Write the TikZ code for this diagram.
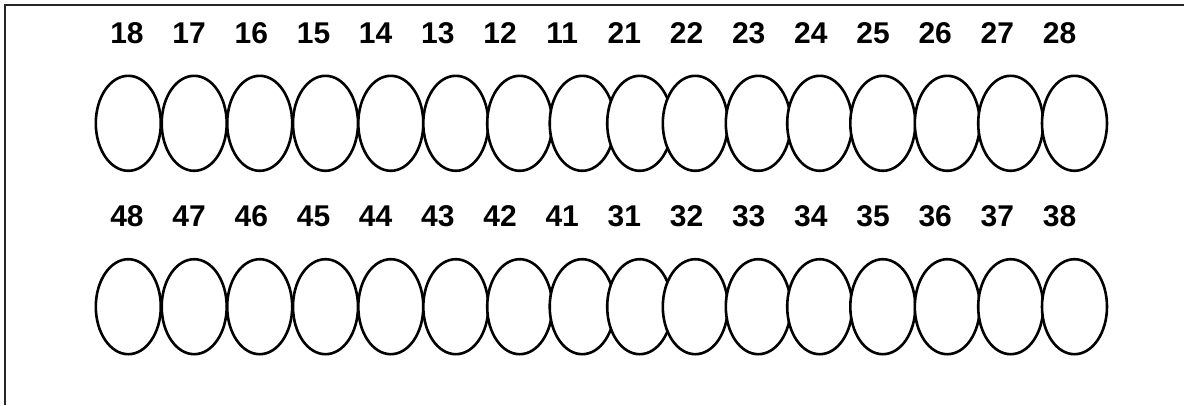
\documentclass[tikz,border=0pt]{standalone}
\usepackage{fontspec}
\setmainfont{Liberation Sans}
\usetikzlibrary{shapes.geometric}
\begin{document}
\begin{tikzpicture}[x=1pt,y=-1pt,
  tooth/.style={ellipse,draw,fill=white,line width=2.6pt,minimum width=65pt,minimum height=95pt,inner sep=0pt},
  num/.style={anchor=base,font=\fontsize{30}{30}\selectfont\bfseries,inner sep=0pt},
  frame/.style={line width=2pt,black!85}]
\useasboundingbox (0,0) rectangle (1184,405);
\coordinate (tl) at (5,5);
\coordinate (tr) at (1184,5);
\coordinate (bl) at (5,405);
\draw[frame] (tr) -- (tl) -- (bl);
\foreach \i/\ex/\a/\b in {0/128.3/18/48, 1/194.2/17/47, 2/259.7/16/46, 3/325.5/15/45,
  4/390.8/14/44, 5/455.8/13/43, 6/519.7/12/42, 7/582.2/11/41, 8/639.7/21/31,
  9/695.3/22/32, 10/758.3/23/33, 11/819.7/24/34, 12/882.8/25/35, 13/947.3/26/36,
  14/1010.7/27/37, 15/1074.5/28/38} {
  \node[tooth] (e\a) at (\ex,123.3) {};
  \node[tooth] (e\b) at (\ex,306.7) {};
  \node[num] (n\a) at ({127+62.17*\i},43.3) {\a};
  \node[num] (n\b) at ({127+62.17*\i},226) {\b};
}
\end{tikzpicture}
\end{document}
